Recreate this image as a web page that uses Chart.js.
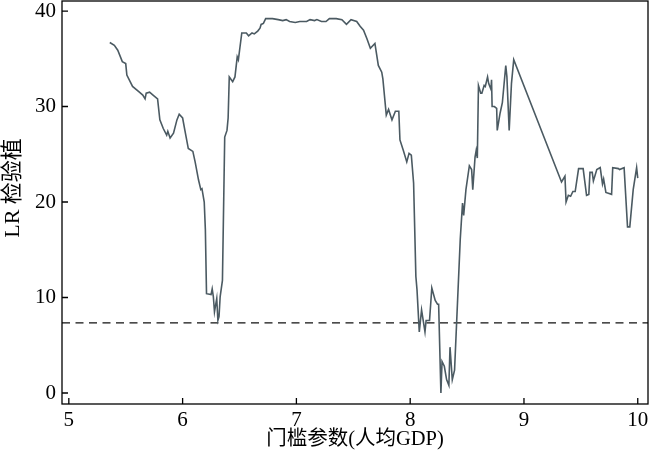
<!DOCTYPE html>
<html>
<head>
<meta charset="utf-8">
<script src="https://cdn.jsdelivr.net/npm/chart.js@4.4.0/dist/chart.umd.min.js"></script>
<style>
    html, body { margin: 0; padding: 0; background: #fff; }
    #wrap { width: 650px; height: 461px; position: relative; }
</style>
</head>
<body>
<div id="wrap"><canvas id="lr-chart"></canvas></div>
<script>
// threshold parameter (x) and LR statistic (y)
const thresholds = [
    5.36, 5.40, 5.43, 5.47, 5.50, 5.51, 5.56, 5.62, 5.65, 5.67, 5.68, 5.71, 5.74, 5.78,
    5.80, 5.83, 5.86, 5.87, 5.89, 5.92, 5.95, 5.97, 6.00, 6.02, 6.05, 6.09, 6.11, 6.14,
    6.16, 6.17, 6.19, 6.20, 6.21, 6.25, 6.26, 6.27, 6.28, 6.30, 6.31, 6.32, 6.33, 6.35,
    6.37, 6.39, 6.40, 6.41, 6.44, 6.46, 6.48, 6.49, 6.52, 6.56, 6.58, 6.61, 6.63, 6.66,
    6.68, 6.69, 6.71, 6.73, 6.79, 6.84, 6.88, 6.91, 6.94, 6.99, 7.03, 7.09, 7.12, 7.16,
    7.18, 7.22, 7.26, 7.29, 7.35, 7.40, 7.44, 7.48, 7.53, 7.56, 7.59, 7.62, 7.65, 7.69,
    7.72, 7.75, 7.76, 7.79, 7.81, 7.84, 7.87, 7.90, 7.91, 7.94, 7.97, 7.99, 8.01, 8.03,
    8.05, 8.06, 8.08, 8.10, 8.13, 8.14, 8.17, 8.19, 8.22, 8.24, 8.25, 8.27, 8.28, 8.30,
    8.32, 8.34, 8.35, 8.37, 8.39, 8.44, 8.46, 8.47, 8.49, 8.52, 8.54, 8.55, 8.57, 8.58,
    8.59, 8.60, 8.62, 8.63, 8.65, 8.66, 8.68, 8.69, 8.71, 8.715, 8.72, 8.74, 8.76, 8.765,
    8.79, 8.81, 8.84, 8.85, 8.87, 8.89, 8.91, 9.33, 9.36, 9.37, 9.39, 9.41, 9.43, 9.45,
    9.48, 9.52, 9.55, 9.57, 9.58, 9.60, 9.61, 9.64, 9.67, 9.69, 9.70, 9.72, 9.77, 9.78,
    9.83, 9.84, 9.88, 9.91, 9.93, 9.96, 9.99, 10.00
];
const lrValues = [
    36.7, 36.4, 35.9, 34.7, 34.5, 33.3, 32.1, 31.5, 31.2, 30.8, 31.4, 31.5, 31.2, 30.8,
    28.6, 27.7, 27.0, 27.4, 26.7, 27.2, 28.6, 29.2, 28.8, 27.5, 25.6, 25.3, 24.2, 22.3,
    21.3, 21.4, 20.0, 17.1, 10.4, 10.3, 10.9, 10.1, 8.5, 9.9, 7.6, 8.0, 10.1, 11.8,
    26.8, 27.5, 28.8, 33.1, 32.6, 33.1, 35.2, 34.9, 37.7, 37.7, 37.4, 37.7, 37.6, 37.9,
    38.2, 38.6, 38.7, 39.2, 39.2, 39.1, 39.0, 39.1, 38.9, 38.8, 38.9, 38.9, 39.1, 39.0,
    39.1, 38.9, 38.9, 39.2, 39.2, 39.1, 38.6, 39.1, 38.9, 38.4, 38.0, 37.1, 36.1, 36.6,
    34.3, 33.6, 32.9, 29.1, 29.7, 28.6, 29.5, 29.5, 26.5, 25.4, 24.2, 25.1, 24.9, 22.0,
    12.2, 10.8, 6.4, 8.7, 6.4, 7.6, 7.6, 11.0, 9.7, 9.3, 9.3, 0.0, 3.3, 2.8,
    1.4, 0.8, 4.8, 1.4, 2.4, 16.1, 19.9, 18.6, 21.3, 23.8, 23.4, 21.3, 24.7, 25.4,
    24.6, 32.2, 31.4, 31.4, 32.2, 32.1, 33.1, 32.4, 31.8, 32.8, 30.0, 30.0, 29.8, 27.5,
    29.3, 30.4, 34.3, 33.1, 27.5, 32.4, 34.9, 22.1, 22.7, 20.0, 20.7, 20.6, 21.1, 21.1,
    23.5, 23.5, 20.7, 20.8, 23.1, 23.1, 22.2, 23.4, 23.6, 21.9, 22.4, 21.0, 20.8, 23.6,
    23.5, 23.4, 23.6, 17.4, 17.4, 21.3, 23.6, 22.5
];
const criticalValue = 7.35;
const xTicks = [5, 6, 7, 8, 9, 10];
const yTicks = [0, 10, 20, 30, 40];

const xMin = 4.94, xMax = 10.09;
const yMin = -1.15, yMax = 41.05;

const serif = "'Liberation Serif', 'Times New Roman', 'Noto Sans CJK SC', serif";

// box around the plot, inward tick marks and the y title (sits a bit above centre)
const frameTicks = {
    id: "frameTicks",
    afterDraw(chart) {
        const { ctx, chartArea: a, scales } = chart;
        ctx.save();
        ctx.strokeStyle = "#000";
        ctx.lineWidth = 1.3;
        ctx.strokeRect(a.left, a.top, a.right - a.left, a.bottom - a.top);
        ctx.beginPath();
        xTicks.forEach((v) => {
            let px = scales.x.getPixelForValue(v);
            ctx.moveTo(px, a.bottom);
            ctx.lineTo(px, a.bottom - 6);
        });
        yTicks.forEach((v) => {
            let py = scales.y.getPixelForValue(v);
            ctx.moveTo(a.left, py);
            ctx.lineTo(a.left + 6, py);
        });
        ctx.stroke();

        ctx.translate(13, 188);
        ctx.rotate(-Math.PI / 2);
        ctx.fillStyle = "#000";
        ctx.font = "22px " + serif;
        ctx.textAlign = "center";
        ctx.textBaseline = "middle";
        ctx.fillText("LR 检验植", 0, 0);
        ctx.restore();
    },
};

let ctx = document.getElementById("lr-chart").getContext("2d");

new Chart(ctx, {
    type: "line",
    data: {
        datasets: [
            {
                data: thresholds.map((x, i) => ({ x: x, y: lrValues[i] })),
                borderColor: "#4b5a62",
                borderWidth: 1.6,
                pointRadius: 0,
                tension: 0,
            },
            {
                data: [{ x: xMin, y: criticalValue }, { x: xMax, y: criticalValue }],
                borderColor: "#111",
                borderWidth: 1.3,
                borderDash: [8, 5.5],
                pointRadius: 0,
            },
        ],
    },
    options: {
        responsive: true,
        maintainAspectRatio: false,
        animation: false,
        layout: { padding: { top: 1, right: 2, left: 0, bottom: 0 } },
        plugins: { legend: { display: false }, tooltip: { enabled: false } },
        scales: {
            x: {
                type: "linear",
                min: xMin,
                max: xMax,
                afterBuildTicks: (s) => { s.ticks = xTicks.map((v) => ({ value: v })); },
                afterFit: (s) => {
                    s.height = 57;
                    s.paddingLeft = 0;
                    s.paddingRight = 0;
                },
                grid: { display: false, drawTicks: false },
                border: { display: false },
                ticks: { color: "#000", font: { family: serif, size: 21 }, padding: 4 },
                title: {
                    display: true,
                    text: "门槛参数(人均GDP)",
                    color: "#000",
                    font: { family: serif, size: 20.5 },
                    padding: { top: 0, bottom: 9 },
                },
            },
            y: {
                min: yMin,
                max: yMax,
                afterBuildTicks: (s) => { s.ticks = yTicks.map((v) => ({ value: v })); },
                afterFit: (s) => {
                    s.width = 62;
                    s.paddingTop = 0;
                    s.paddingBottom = 0;
                },
                grid: { display: false, drawTicks: false },
                border: { display: false },
                ticks: { color: "#000", font: { family: serif, size: 21 }, padding: 6 },
            },
        },
    },
    plugins: [frameTicks],
});
</script>
</body>
</html>
